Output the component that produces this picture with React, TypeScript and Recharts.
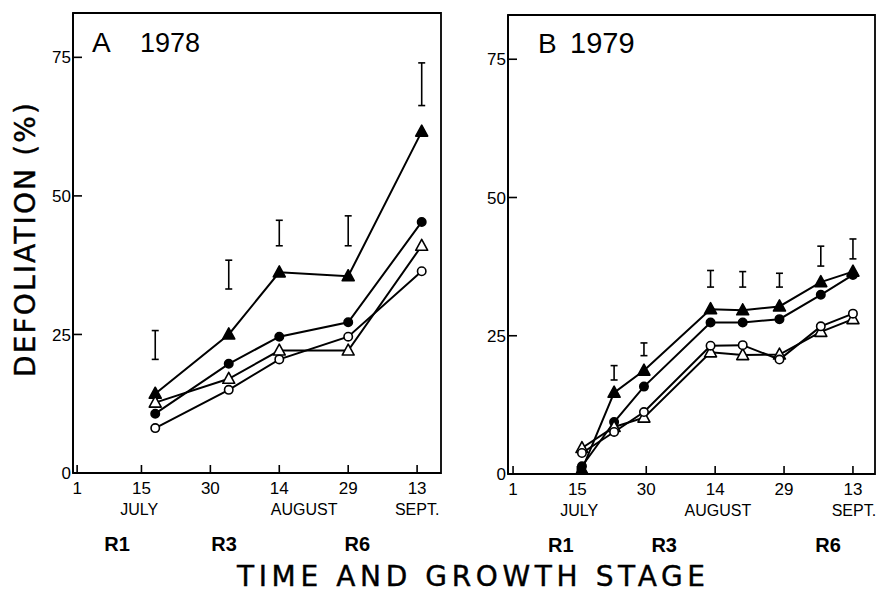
import React from 'react';
import { LineChart, Line, XAxis, YAxis, ErrorBar, ReferenceArea } from 'recharts';

const FONT = "'Liberation Sans', Arial, Helvetica, sans-serif";
const WIDE = "'DejaVu Sans', 'Liberation Sans', Arial, sans-serif";
const NARROW = "'Liberation Sans Narrow', 'Liberation Sans', Arial, sans-serif";

// Axis ticks (days after July 1)
const dayTicks = [0, 14, 29, 44, 59, 74];
const dayTickLabels = ['1', '15', '30', '14', '29', '13'];
const yTicks = [0, 25, 50, 75];
const monthNames = ['JULY', 'AUGUST', 'SEPT.'];
const monthPosA = [13.5, 49.4, 74];
const monthPosB = [14.4, 44.6, 74.2];
const stageNames = ['R1', 'R3', 'R6'];
const stagePosA = [8.7, 32, 61];
const stagePosB = [10.4, 32.9, 68.6];

// Panel A 1978
const daysA = [17, 33, 44, 59, 75];
const filledTriA = [14.3, 25, 36.2, 35.5, 61.6];
const filledCirA = [10.7, 19.7, 24.6, 27.2, 45.3];
const openTriA = [12.7, 17, 22.1, 22.1, 41];
const openCirA = [8.1, 15, 20.5, 24.6, 36.4];
const lsdLowA = [20.5, 33.2, 41, 41, 66.3];
const lsdHighA = [25.7, 38.4, 45.6, 46.4, 74];

// Panel B 1979
const daysB = [15, 22, 28.5, 43, 50, 58, 67, 74];
const filledTriB = [0.8, 14.7, 18.7, 29.8, 29.6, 30.3, 34.7, 36.6];
const filledCirB = [1.4, 9.4, 15.8, 27.4, 27.4, 28, 32.4, 36];
const openTriB = [4.7, 8.5, 10.2, 22, 21.5, 21.6, 25.7, 28];
const openCirB = [3.8, 7.6, 11.2, 23.2, 23.3, 20.7, 26.7, 29];
const lsdLowB: (number | null)[] = [null, 17, 21.4, 33.8, 33.8, 33.8, 37.6, 38.9];
const lsdHighB: (number | null)[] = [null, 19.6, 23.7, 36.8, 36.6, 36.3, 41.2, 42.5];

const domainA: [number, number] = [-0.9, 79.2];
const domainB: [number, number] = [-1.1, 78.8];
const yDomain: [number, number] = [0, 83];

function buildTable(days: number[], ft: number[], fc: number[], ot: number[], oc: number[], lo: (number | null)[], hi: (number | null)[]) {
  return days.map((d, i) => {
    const l = lo[i];
    const h = hi[i];
    return {
      day: d,
      ft: ft[i],
      fc: fc[i],
      ot: ot[i],
      oc: oc[i],
      mid: l == null || h == null ? null : (l + h) / 2,
      err: l == null || h == null ? null : (h - l) / 2,
    };
  });
}

const tableA = buildTable(daysA, filledTriA, filledCirA, openTriA, openCirA, lsdLowA, lsdHighA);
const tableB = buildTable(daysB, filledTriB, filledCirB, openTriB, openCirB, lsdLowB, lsdHighB);

const unionTicks = (...lists: number[][]) => Array.from(new Set(lists.flat())).sort((a, b) => a - b);

const makeDot = (kind: string) => (props: any) => {
  const { cx, cy, index } = props;
  const k = `${kind}-${index}`;
  if (cx == null || cy == null) return <g key={k} />;
  if (kind === 'ft' || kind === 'ot') {
    const pts = `${cx},${cy - 6.5} ${cx - 6},${cy + 4.5} ${cx + 6},${cy + 4.5}`;
    return (
      <polygon key={k} points={pts} fill={kind === 'ft' ? '#000' : '#fff'} stroke="#000" strokeWidth={1.6} strokeLinejoin="round" />
    );
  }
  return <circle key={k} cx={cx} cy={cy} r={4.2} fill={kind === 'fc' ? '#000' : '#fff'} stroke="#000" strokeWidth={1.6} />;
};

const makeBottomTick = (monthPos: number[], stagePos: number[]) => (p: any) => {
  const { x, y, payload } = p;
  const v = payload.value;
  const di = dayTicks.indexOf(v);
  const mi = monthPos.indexOf(v);
  const si = stagePos.indexOf(v);
  return (
    <g>
      {di >= 0 && (
        <g>
          <line x1={x} y1={y} x2={x} y2={y - 8} stroke="#000" strokeWidth={1.6} />
          <text x={x} y={y + 21} textAnchor="middle" fontSize={17} fontFamily={FONT} fill="#000">{dayTickLabels[di]}</text>
        </g>
      )}
      {mi >= 0 && (
        <text x={x} y={y + 42} textAnchor="middle" fontSize={16} fontFamily={FONT} fill="#000">{monthNames[mi]}</text>
      )}
      {si >= 0 && (
        <text x={x} y={y + 78} textAnchor="middle" fontSize={20} fontWeight="bold" fontFamily={NARROW} fill="#000">{stageNames[si]}</text>
      )}
    </g>
  );
};

const YTick = (p: any) => {
  const { x, y, payload } = p;
  return (
    <g>
      <line x1={x} y1={y} x2={x + 9} y2={y} stroke="#000" strokeWidth={1.6} />
      <text x={x - 2} y={y} dy="0.36em" textAnchor="end" fontSize={17} fontFamily={FONT} fill="#000">{payload.value}</text>
    </g>
  );
};

const axisStroke = { stroke: '#000', strokeWidth: 1.8 };

function Panel({ data, domain, monthPos, stagePos, width, margin, yWidth }: any) {
  const ticks = unionTicks(dayTicks, monthPos, stagePos);
  return (
    <LineChart width={width} height={596} data={data} margin={margin}>
      <XAxis
        dataKey="day"
        type="number"
        domain={domain}
        allowDataOverflow
        ticks={ticks}
        interval={0}
        tickSize={0}
        tickMargin={0}
        tickLine={false}
        axisLine={axisStroke}
        tick={makeBottomTick(monthPos, stagePos)}
        height={88}
      />
      <YAxis
        type="number"
        domain={yDomain}
        allowDataOverflow
        ticks={yTicks}
        interval={0}
        tickSize={0}
        tickMargin={0}
        tickLine={false}
        axisLine={axisStroke}
        tick={YTick}
        width={yWidth}
      />
      <ReferenceArea x1={domain[0]} x2={domain[1]} y1={yDomain[0]} y2={yDomain[1]} fill="none" stroke="#000" strokeWidth={1.8} fillOpacity={0} />
      <Line dataKey="ft" stroke="#000" strokeWidth={2} dot={makeDot('ft')} activeDot={false} isAnimationActive={false} />
      <Line dataKey="fc" stroke="#000" strokeWidth={2} dot={makeDot('fc')} activeDot={false} isAnimationActive={false} />
      <Line dataKey="ot" stroke="#000" strokeWidth={2} dot={makeDot('ot')} activeDot={false} isAnimationActive={false} />
      <Line dataKey="oc" stroke="#000" strokeWidth={2} dot={makeDot('oc')} activeDot={false} isAnimationActive={false} />
      <Line dataKey="mid" stroke="none" dot={false} activeDot={false} isAnimationActive={false}>
        <ErrorBar dataKey="err" direction="y" width={3.5} stroke="#000" strokeWidth={1.6} isAnimationActive={false} />
      </Line>
    </LineChart>
  );
}

export default function App() {
  return (
    <div style={{ position: 'absolute', left: 0, top: 0, width: 877, height: 596, background: '#fff', overflow: 'hidden' }}>
      <div style={{ position: 'absolute', left: 0, top: 0 }}>
        <Panel
          data={tableA}
          domain={domainA}
          monthPos={monthPosA}
          stagePos={stagePosA}
          width={460}
          yWidth={73}
          margin={{ top: 13, right: 19, bottom: 35, left: 0 }}
        />
      </div>
      <div style={{ position: 'absolute', left: 480, top: 0 }}>
        <Panel
          data={tableB}
          domain={domainB}
          monthPos={monthPosB}
          stagePos={stagePosB}
          width={397}
          yWidth={28}
          margin={{ top: 15, right: 2, bottom: 34, left: 0 }}
        />
      </div>
      <svg width={877} height={596} style={{ position: 'absolute', left: 0, top: 0, pointerEvents: 'none' }}>
        <text x={92} y={52} fontSize={28} fontFamily={FONT} fill="#000">A</text>
        <text x={140} y={52} fontSize={27} fontFamily={FONT} fill="#000">1978</text>
        <text x={538} y={53} fontSize={28} fontFamily={FONT} fill="#000">B</text>
        <text x={570} y={53} fontSize={29} fontFamily={FONT} fill="#000">1979</text>
        <g transform="rotate(-90, 25, 240)">
          <text x={25} y={250} textAnchor="middle" fontSize={28} fontFamily={WIDE} fill="#000" stroke="#000" strokeWidth={0.4} textLength={274} lengthAdjust="spacing">DEFOLIATION (%)</text>
        </g>
        <text x={471} y={586} textAnchor="middle" fontSize={28} fontFamily={WIDE} fill="#000" stroke="#000" strokeWidth={0.4} textLength={468} lengthAdjust="spacing">TIME AND GROWTH STAGE</text>
      </svg>
    </div>
  );
}
